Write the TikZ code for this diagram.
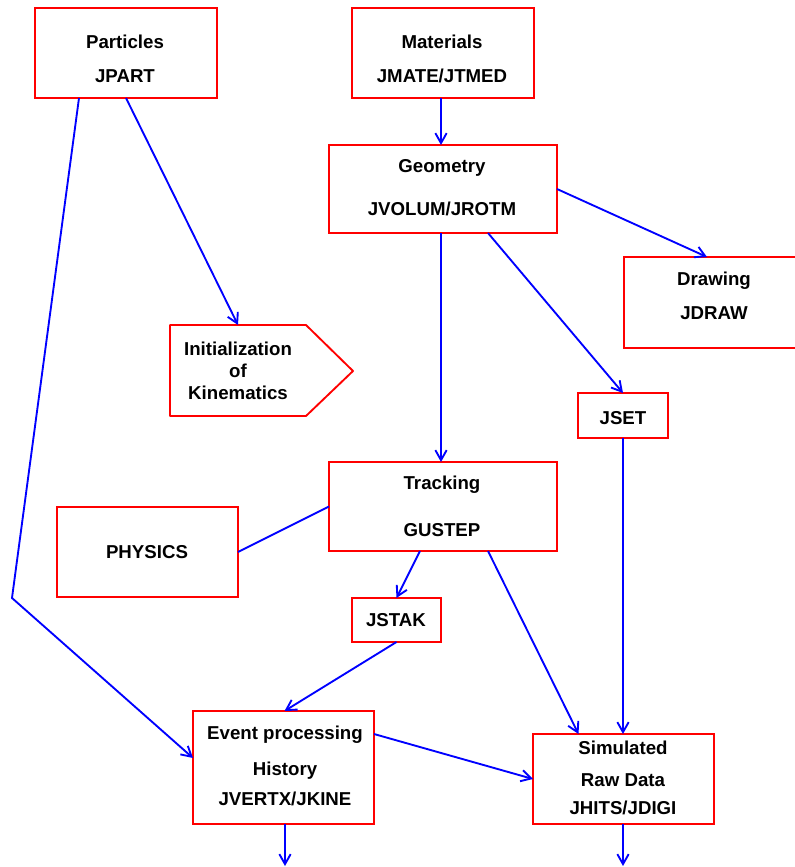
\documentclass[tikz,border=0pt]{standalone}
\usepackage{fontspec}
\setmainfont{Liberation Sans}
\usetikzlibrary{arrows.meta,calc}

\tikzset{
  box/.style 2 args={draw=red, line width=1.4pt, inner sep=0pt, outer sep=0pt,
    minimum width=#1*0.75pt, minimum height=#2*0.75pt},
  lbl/.style={font=\fontsize{14}{16}\selectfont\bfseries, inner sep=0pt},
  link/.style={draw=blue, line width=1.4pt, -{Straight Barb[length=7.5pt,width=8.5pt]}},
  plain/.style={draw=blue, line width=1.4pt}
}

\begin{document}
\begin{tikzpicture}[x=0.75pt, y=-0.75pt]
\useasboundingbox (0,0) rectangle (794,867);

% Input boxes at the top
\node[box={182}{90}] (part) at (126,53) {};
\node[lbl] (partA) at (125,42) {Particles};
\node[lbl] (partB) at (125,76) {JPART};

\node[box={182}{90}] (mate) at (443,53) {};
\node[lbl] (mateA) at (442,42) {Materials};
\node[lbl] (mateB) at (442,76) {JMATE/JTMED};

% Geometry and drawing
\node[box={228}{88}] (geom) at (443,189) {};
\node[lbl] (geomA) at (442,168) {Geometry};
\node[lbl] (geomB) at (442,209) {JVOLUM/JROTM};

\node[box={182}{91}] (drw) at (715,302.5) {};
\node[lbl] (drwA) at (714,281) {Drawing};
\node[lbl] (drwB) at (714,313) {JDRAW};

% Initialization of kinematics (arrow shaped)
\draw[red, line width=1.4pt, line join=round] (170,325) -- (306,325) -- (353,371) -- (306,416) -- (170,416) -- cycle;
\coordinate (init) at (238,325);
\node[lbl] (initA) at (238,349) {Initialization};
\node[lbl] (initB) at (238,371) {of};
\node[lbl] (initC) at (238,393) {Kinematics};

% Tracking part
\node[box={90}{45}] (jset) at (623,415.5) {};
\node[lbl] (jsetA) at (623,418) {JSET};

\node[box={228}{89}] (track) at (443,506.5) {};
\node[lbl] (trackA) at (442,485) {Tracking};
\node[lbl] (trackB) at (442,530) {GUSTEP};

\node[box={181}{90}] (phys) at (147.5,552) {};
\node[lbl] (physA) at (147,552) {PHYSICS};

\node[box={89}{44}] (jstak) at (396.5,620) {};
\node[lbl] (jstakA) at (396,620) {JSTAK};

% Output boxes at the bottom
\node[box={181}{113}] (event) at (283.5,767.5) {};
\node[lbl] (eventA) at (285,735) {Event processing};
\node[lbl] (eventB) at (285,771) {History};
\node[lbl] (eventC) at (285,799) {JVERTX/JKINE};

\node[box={181}{90}] (sim) at (623.5,779) {};
\node[lbl] (simA) at (623,748) {Simulated};
\node[lbl] (simB) at (623,780) {Raw Data};
\node[lbl] (simC) at (623,808) {JHITS/JDIGI};

% Connections
\coordinate (bend) at (12,598);
\draw[link] (part.south) -- (init);
\draw[link] ($(part.south)+(-47,0)$) -- (bend) -- ($(event.west)+(0,-9.5)$);
\draw[link] ($(mate.south)+(-2,0)$) -- ($(geom.north)+(-2,0)$);
\draw[link] (geom.east) -- ($(drw.north)+(-8,0)$);
\draw[link] ($(geom.south)+(-2,0)$) -- ($(track.north)+(-2,0)$);
\draw[link] ($(geom.south)+(45,0)$) -- (jset.north);
\draw[link] (jset.south) -- (jset.south |- sim.north);
\draw[plain] (track.west) -- (phys.east);
\draw[link] ($(track.south)+(-23,0)$) -- (jstak.north);
\draw[link] ($(track.south)+(45,0)$) -- ($(sim.north)+(-45,0)$);
\draw[link] (jstak.south) -- ($(event.north)+(1,0)$);
\draw[link] ($(event.east)+(0,-33.5)$) -- (sim.west);
\draw[link] ($(event.south)+(1.5,0)$) -- ++(0,42);
\draw[link] ($(sim.south)+(-0.5,0)$) -- ++(0,42);
\end{tikzpicture}
\end{document}
